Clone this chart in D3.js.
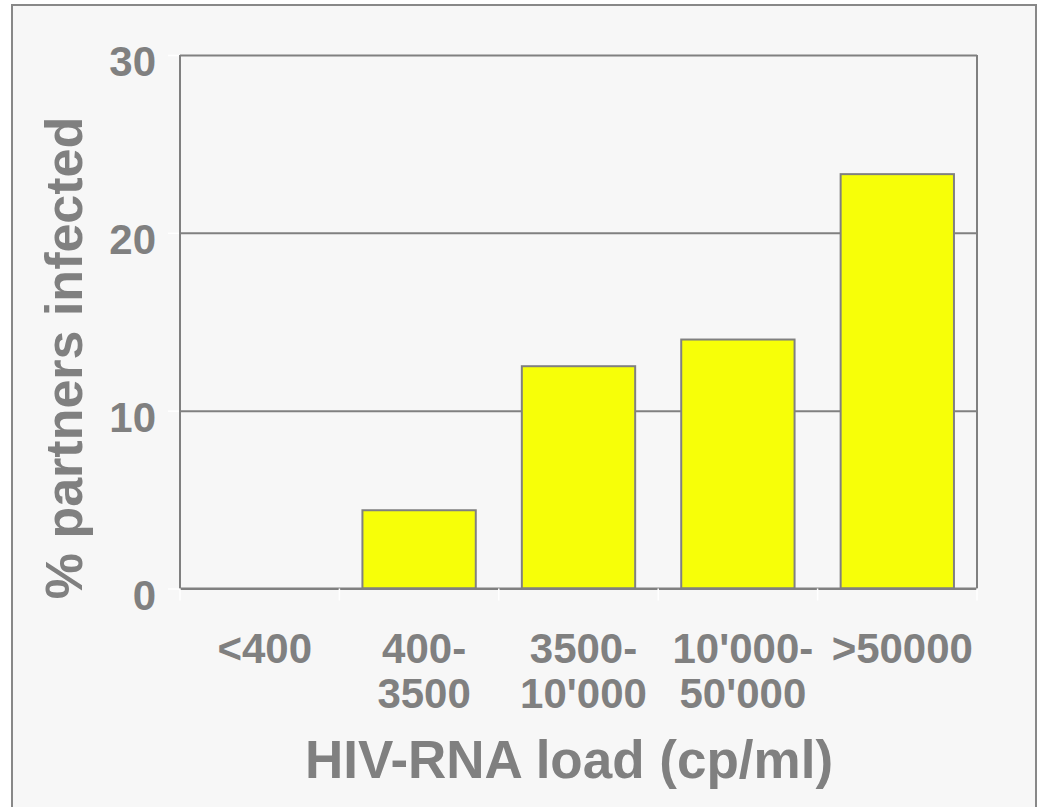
<!DOCTYPE html>
<html>
<head>
<meta charset="utf-8">
<script src="https://cdn.jsdelivr.net/npm/d3@7"></script>
<style>
  html, body { margin: 0; padding: 0; background: #ffffff; }
  svg { display: block; }
  text { font-family: "Liberation Sans", Arial, sans-serif; font-weight: bold; fill: #808080; }
</style>
</head>
<body>
<svg id="chart" width="1038" height="807"></svg>
<script>
const categories = ["<400", "400-3500", "3500-10'000", "10'000-50'000", ">50000"];
const labelLine1 = ["<400", "400-", "3500-", "10'000-", ">50000"];
const labelLine2 = ["", "3500", "10'000", "50'000", ""];
const values = [0, 4.4, 12.5, 14.0, 23.3];
const yTicks = [0, 10, 20, 30];
const yLabel = "% partners infected";
const xLabel = "HIV-RNA load (cp/ml)";

(function () {
const svg = d3.select("#chart");
const grey = "#808080";

// frame background
svg.append("rect").attr("x", 12).attr("y", 5).attr("width", 1024).attr("height", 820)
  .attr("fill", "#f7f7f7").attr("stroke", "#888888").attr("stroke-width", 2);

const pLeft = 180, pRight = 977, pTop = 55, pBottom = 588.5;

const x = d3.scaleBand().domain(categories).range([pLeft, pRight]).paddingInner(0.289).paddingOuter(0.1445);
const y = d3.scaleLinear().domain([0, 30]).range([pBottom, pTop]);

// gridlines
const grid = svg.append("g").attr("transform", `translate(${pLeft},0)`)
  .call(d3.axisLeft(y).tickValues(yTicks).tickSize(-(pRight - pLeft)).tickFormat(""));
grid.select(".domain").remove();
grid.selectAll(".tick line").attr("stroke", grey).attr("stroke-width", 2);

// white y ticks outside
const yt = svg.append("g").attr("transform", `translate(${pLeft},0)`)
  .call(d3.axisLeft(y).tickValues(yTicks).tickSize(12).tickFormat(""));
yt.select(".domain").remove();
yt.selectAll(".tick line").attr("stroke", "#ffffff").attr("stroke-width", 1.5);

// y tick labels
svg.append("g").selectAll("text").data(yTicks).join("text")
  .attr("x", 156).attr("y", d => y(d) + 21)
  .attr("text-anchor", "end").attr("font-size", 42).text(d => d);

// vertical frame lines
svg.append("line").attr("x1", pLeft).attr("x2", pLeft).attr("y1", pTop).attr("y2", pBottom)
  .attr("stroke", grey).attr("stroke-width", 2);
svg.append("line").attr("x1", pRight).attr("x2", pRight).attr("y1", pTop).attr("y2", pBottom)
  .attr("stroke", grey).attr("stroke-width", 2);

// bars
svg.append("g").selectAll("rect").data(values).join("rect")
  .attr("x", (d, i) => x(categories[i]))
  .attr("y", d => y(d))
  .attr("width", x.bandwidth())
  .attr("height", d => y(0) - y(d))
  .attr("fill", "#f7ff08")
  .attr("stroke", grey).attr("stroke-width", 2);

// bottom axis line
svg.append("line").attr("x1", pLeft).attr("x2", pRight).attr("y1", pBottom).attr("y2", pBottom)
  .attr("stroke", grey).attr("stroke-width", 2);

// white x ticks at band boundaries
const bounds = d3.range(categories.length + 1).map(i => pLeft + i * (pRight - pLeft) / categories.length);
svg.append("g").selectAll("line").data(bounds).join("line")
  .attr("x1", d => d).attr("x2", d => d).attr("y1", pBottom).attr("y2", pBottom + 12)
  .attr("stroke", "#ffffff").attr("stroke-width", 1.5);

// category labels
const cx = (i) => x(categories[i]) + x.bandwidth() / 2 + 5;
svg.append("g").selectAll("text").data(labelLine1).join("text")
  .attr("x", (d, i) => cx(i)).attr("y", 663)
  .attr("text-anchor", "middle").attr("font-size", 42).text(d => d);
svg.append("g").selectAll("text").data(labelLine2).join("text")
  .attr("x", (d, i) => cx(i)).attr("y", 708)
  .attr("text-anchor", "middle").attr("font-size", 42).text(d => d);

// axis titles
svg.append("text").attr("x", 569).attr("y", 778).attr("text-anchor", "middle")
  .attr("font-size", 53).text(xLabel);
svg.append("text").attr("transform", "translate(82,358) rotate(-90)")
  .attr("text-anchor", "middle").attr("font-size", 52).text(yLabel);
})();
</script>
</body>
</html>
